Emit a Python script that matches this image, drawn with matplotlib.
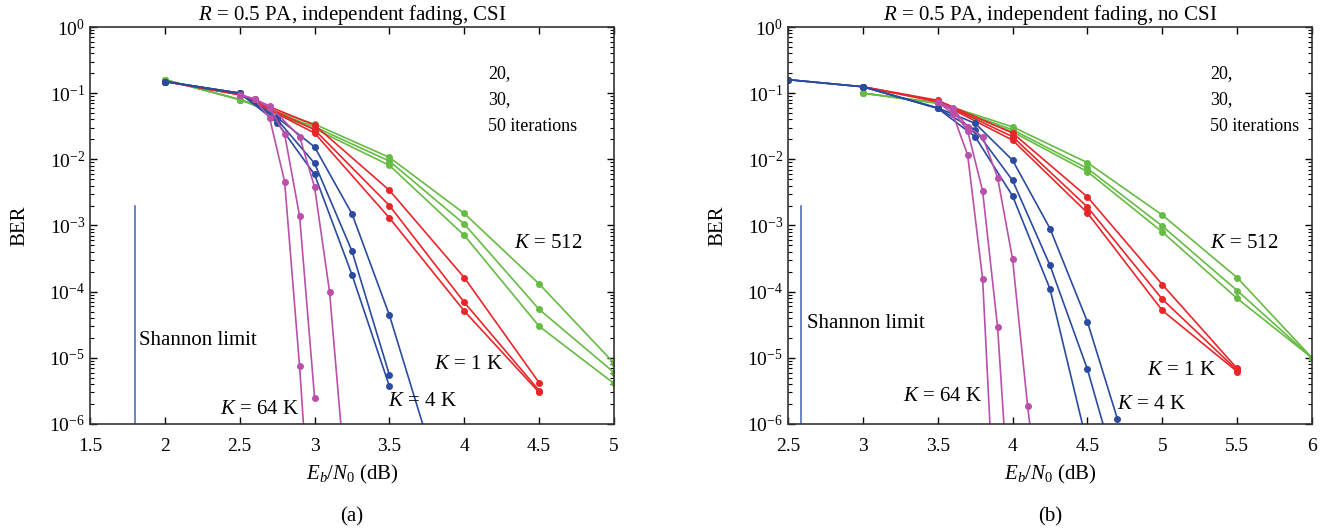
import matplotlib
matplotlib.use("Agg")
import matplotlib.pyplot as plt
from matplotlib.ticker import LogLocator, NullFormatter, MultipleLocator

plt.rcParams['font.family'] = ['Liberation Serif', 'DejaVu Serif']
plt.rcParams['mathtext.fontset'] = 'custom'
plt.rcParams['mathtext.rm'] = 'Liberation Serif'
plt.rcParams['mathtext.it'] = 'Liberation Serif:italic'

# iteration counts for the three curves in each group: 20, 30, 50
# ---- panel (a): CSI ----
csi_x_512 = [2.0, 2.5, 3.0, 3.5, 4.0, 4.5, 5.0]
csi_ber_512 = [[0.16, 0.08, 0.034, 0.0107, 1.52e-3, 1.31e-4, 8.3e-6],
               [0.16, 0.08, 0.031, 0.0094, 1.05e-3, 5.4e-5, 6.0e-6],
               [0.16, 0.08, 0.029, 0.0081, 7.1e-4, 3.0e-5, 4.1e-6]]

csi_x_1k = [2.0, 2.5, 3.0, 3.5, 4.0, 4.5]
csi_ber_1k = [[0.15, 0.095, 0.033, 0.0034, 1.63e-4, 4.2e-6],
              [0.15, 0.095, 0.028, 0.0020, 6.9e-5, 3.2e-6],
              [0.15, 0.095, 0.025, 0.0013, 5.1e-5, 3.0e-6]]

csi_x_4k = [[2.0, 2.5, 2.75, 3.0, 3.25, 3.5, 3.75],
            [2.0, 2.5, 2.75, 3.0, 3.25, 3.5],
            [2.0, 2.5, 2.75, 3.0, 3.25, 3.5]]
csi_ber_4k = [[0.15, 0.10, 0.043, 0.0154, 0.0015, 4.4e-5, 6.2e-7],
              [0.15, 0.10, 0.040, 0.0087, 4.1e-4, 5.5e-6],
              [0.15, 0.10, 0.036, 0.0059, 1.8e-4, 3.7e-6]]

csi_x_64k = [[2.5, 2.6, 2.7, 2.9, 3.0, 3.1, 3.2],
             [2.5, 2.6, 2.7, 2.8, 2.9, 3.0],
             [2.5, 2.6, 2.7, 2.8, 2.9, 3.0]]
csi_ber_64k = [[0.095, 0.081, 0.064, 0.022, 0.0038, 1.0e-4, 2.2e-7],
               [0.095, 0.081, 0.060, 0.024, 0.00138, 2.5e-6],
               [0.095, 0.081, 0.042, 0.0046, 7.4e-6, 3e-9]]

# ---- panel (b): no CSI ----
nocsi_x_512 = [3.0, 3.5, 4.0, 4.5, 5.0, 5.5, 6.0]
nocsi_ber_512 = [[0.10, 0.072, 0.031, 0.0089, 1.44e-3, 1.63e-4, 1.0e-5],
                 [0.10, 0.071, 0.028, 0.0073, 9.8e-4, 1.04e-4, 1.0e-5],
                 [0.10, 0.070, 0.026, 0.0065, 8.0e-4, 7.9e-5, 1.0e-5]]

nocsi_x_1k = [3.0, 3.5, 4.0, 4.5, 5.0, 5.5]
nocsi_ber_1k = [[0.125, 0.078, 0.025, 0.0027, 1.28e-4, 6.9e-6],
                [0.125, 0.076, 0.022, 0.0019, 7.7e-5, 6.5e-6],
                [0.125, 0.074, 0.0195, 0.00155, 5.2e-5, 6.2e-6]]

nocsi_x_4k = [[2.5, 3.0, 3.5, 3.75, 4.0, 4.25, 4.5, 4.7],
              [2.5, 3.0, 3.5, 3.75, 4.0, 4.25, 4.5, 4.75],
              [2.5, 3.0, 3.5, 3.75, 4.0, 4.25, 4.5]]
nocsi_ber_4k = [[0.16, 0.125, 0.060, 0.035, 0.0097, 9e-4, 3.5e-5, 1.2e-6],
                [0.16, 0.125, 0.059, 0.028, 0.0048, 2.5e-4, 6.7e-6, 7e-8],
                [0.16, 0.125, 0.059, 0.022, 0.0028, 1.1e-4, 4.8e-7]]

nocsi_x_64k = [[3.5, 3.6, 3.7, 3.8, 3.9, 4.0, 4.1, 4.2],
               [3.5, 3.6, 3.7, 3.8, 3.9, 4.0],
               [3.5, 3.6, 3.7, 3.8, 3.9]]
nocsi_ber_64k = [[0.074, 0.059, 0.031, 0.022, 0.0053, 3.1e-4, 1.9e-6, 2.7e-8],
                 [0.074, 0.055, 0.027, 0.0033, 2.9e-5, 1e-8],
                 [0.074, 0.049, 0.0116, 1.55e-4, 5e-9]]

shannon_limit = [1.8, 2.59]
shannon_top = 2e-3

colors = {'512': '#66bb44', '1k': '#e8262a', '4k': '#2b4ba0', '64k': '#bb4fa9'}
shannon_color = '#4f6fc0'
FS = 15
TICK_FS = 14
ITER_FS = 13

fig = plt.figure(figsize=(13.3, 5.31), dpi=100)
ax_a = fig.add_axes([90 / 1330, 107 / 531, 524 / 1330, 397 / 531])
ax_b = fig.add_axes([788 / 1330, 107 / 531, 524 / 1330, 397 / 531])


def draw_group(ax, xs, ys, color, shared_x=False):
    for i, y in enumerate(ys):
        x = xs if shared_x else xs[i]
        ax.plot(x, y, '-o', color=color, lw=1.2, ms=4, mec=color)


def style_axis(ax, xmin, xmax):
    ax.set_yscale('log')
    ax.set_xlim(xmin, xmax)
    ax.set_ylim(1e-6, 1)
    ax.xaxis.set_major_locator(MultipleLocator(0.5))
    ax.yaxis.set_major_locator(LogLocator(base=10, numticks=10))
    ax.yaxis.set_minor_locator(LogLocator(base=10, subs=range(2, 10), numticks=20))
    ax.yaxis.set_minor_formatter(NullFormatter())
    ax.tick_params(which='both', direction='in', top=True, right=True, labelsize=TICK_FS)
    ax.tick_params(which='major', length=5, width=1)
    ax.tick_params(which='minor', length=3, width=0.8)
    ax.tick_params(axis='x', pad=10)
    for s in ax.spines.values():
        s.set_linewidth(1.2)
        s.set_color('#333333')
    ax.set_ylabel('BER', fontsize=FS, labelpad=14)
    ax.set_xlabel(r'$E_b/N_0$ (dB)', fontsize=FS, labelpad=6)
    ax.xaxis.set_major_formatter(plt.FuncFormatter(lambda v, p: f'{v:g}'))


# panel (a)
draw_group(ax_a, csi_x_512, csi_ber_512, colors['512'], shared_x=True)
draw_group(ax_a, csi_x_1k, csi_ber_1k, colors['1k'], shared_x=True)
draw_group(ax_a, csi_x_4k, csi_ber_4k, colors['4k'])
draw_group(ax_a, csi_x_64k, csi_ber_64k, colors['64k'])
ax_a.plot([shannon_limit[0]] * 2, [1e-6, shannon_top], color=shannon_color, lw=1.2)
style_axis(ax_a, 1.5, 5)
ax_a.set_title(r'$R$ = 0.5 PA, independent fading, CSI', fontsize=FS, pad=3)
ax_a.text(1.83, 1.8e-5, 'Shannon limit', fontsize=FS, va='center')
ax_a.text(4.33, 5.4e-4, r'$K$ = 512', fontsize=FS, va='center')
ax_a.text(3.80, 7.8e-6, r'$K$ = 1 K', fontsize=FS, va='center')
ax_a.text(3.49, 2.2e-6, r'$K$ = 4 K', fontsize=FS, va='center')
ax_a.text(2.37, 1.65e-6, r'$K$ = 64 K', fontsize=FS, va='center')
ax_a.text(0.76, 0.905, '20,\n30,\n50 iterations', transform=ax_a.transAxes,
          fontsize=ITER_FS, va='top', ha='left', linespacing=1.75)

# panel (b)
draw_group(ax_b, nocsi_x_512, nocsi_ber_512, colors['512'], shared_x=True)
draw_group(ax_b, nocsi_x_1k, nocsi_ber_1k, colors['1k'], shared_x=True)
draw_group(ax_b, nocsi_x_4k, nocsi_ber_4k, colors['4k'])
draw_group(ax_b, nocsi_x_64k, nocsi_ber_64k, colors['64k'])
ax_b.plot([shannon_limit[1]] * 2, [1e-6, shannon_top], color=shannon_color, lw=1.2)
style_axis(ax_b, 2.5, 6)
ax_b.set_title(r'$R$ = 0.5 PA, independent fading, no CSI', fontsize=FS, pad=3)
ax_b.text(2.63, 3.3e-5, 'Shannon limit', fontsize=FS, va='center')
ax_b.text(5.32, 5.4e-4, r'$K$ = 512', fontsize=FS, va='center')
ax_b.text(4.90, 6.5e-6, r'$K$ = 1 K', fontsize=FS, va='center')
ax_b.text(4.70, 2.0e-6, r'$K$ = 4 K', fontsize=FS, va='center')
ax_b.text(3.27, 2.6e-6, r'$K$ = 64 K', fontsize=FS, va='center')
ax_b.text(0.805, 0.905, '20,\n30,\n50 iterations', transform=ax_b.transAxes,
          fontsize=ITER_FS, va='top', ha='left', linespacing=1.75)

fig.text(352 / 1330, 1 - 517 / 531, '(a)', fontsize=FS, ha='center', va='center')
fig.text(1050 / 1330, 1 - 517 / 531, '(b)', fontsize=FS, ha='center', va='center')

fig.savefig('out.png', dpi=100)
